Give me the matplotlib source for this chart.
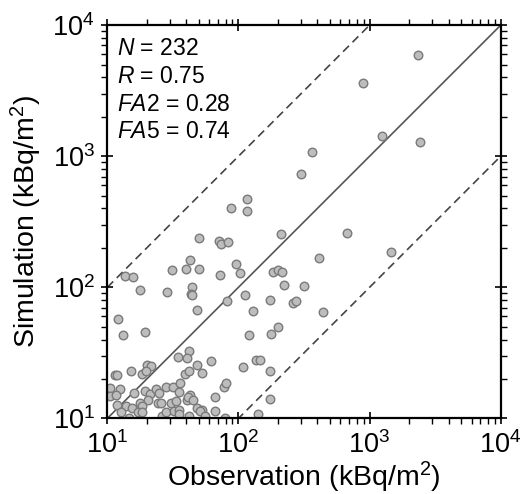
import numpy as np
import matplotlib
matplotlib.use("Agg")
import matplotlib.pyplot as plt

plt.rcParams['font.family'] = ['Liberation Sans', 'DejaVu Sans']
plt.rcParams['mathtext.fontset'] = 'custom'
plt.rcParams['mathtext.rm'] = 'Liberation Sans'
plt.rcParams['mathtext.it'] = 'Liberation Sans:italic'
plt.rcParams['mathtext.bf'] = 'Liberation Sans:bold'

# Observation / simulation deposition (kBq/m2)
obs = [2355, 891, 1239, 2427, 367, 298, 116, 88.1, 117, 50.2,
       71.1, 73.6, 82.8, 211, 677, 1466, 408, 42.4, 95.0, 31.3,
       39.6, 50.0, 72.8, 103, 182, 201, 215, 13.6, 15.6, 223,
       318, 17.9, 28.6, 44.3, 43.4, 44.3, 112, 175, 261, 277,
       81.1, 48.6, 129, 438, 12.0, 199, 13.2, 19.3, 121, 178,
       42.0, 34.3, 40.5, 61.6, 137, 146, 19.9, 21.7, 48.6, 108,
       11.5, 11.9, 15.1, 18.5, 19.7, 39.3, 42.0, 53.1, 175, 10.4,
       12.4, 16.0, 19.5, 21.1, 23.5, 24.8, 28.0, 31.5, 35.9, 35.5,
       42.4, 77.6, 80.7, 10.4, 11.6, 20.3, 30.7, 33.3, 40.5, 41.3,
       44.8, 65.9, 175, 11.9, 13.8, 15.3, 17.8, 18.4, 24.4, 25.8,
       47.9, 52.7, 66.3, 12.8, 17.1, 18.5, 26.1, 27.8, 32.4, 35.1,
       35.5, 41.7, 50.9, 55.9, 78.3, 142, 14.7]
sim = [5902, 3606, 1436, 1280, 1084, 728, 475, 405, 380, 240,
       226, 214, 221, 256, 261, 186, 167, 161, 151, 136,
       138, 137, 124, 128, 130, 135, 130, 122, 119, 105,
       102, 94.9, 91.8, 101, 88.5, 87.8, 87.1, 80.0, 76.2, 79.3,
       78.3, 67.7, 65.6, 64.9, 57.3, 49.6, 43.3, 45.6, 43.3, 43.8,
       32.4, 29.6, 29.1, 27.4, 28.0, 27.8, 25.6, 25.3, 25.6, 24.8,
       21.5, 21.5, 23.1, 21.8, 23.1, 22.0, 22.9, 22.2, 23.1, 17.1,
       16.7, 15.6, 16.3, 15.4, 16.8, 15.5, 17.4, 17.4, 18.5, 16.0,
       15.2, 17.5, 18.5, 14.7, 15.1, 13.8, 13.2, 13.6, 13.7, 14.6,
       13.9, 14.6, 14.0, 12.6, 12.5, 12.0, 13.0, 12.4, 13.2, 13.1,
       12.0, 11.6, 11.3, 11.1, 11.2, 11.1, 10.4, 11.1, 11.4, 11.5,
       10.8, 10.5, 11.3, 10.4, 10.0, 10.8, 10.1]

stats_names = ['N', 'R', 'FA2', 'FA5']
stats_values = ['232', '0.75', '0.28', '0.74']

lims = [10, 1e4]

fig = plt.figure(figsize=(5.21, 4.94), dpi=100)
ax = fig.add_axes([0.206, 0.153, 0.755, 0.796])

ref = np.array(lims)
ax.plot(ref, ref, color='#555555', lw=1.2, zorder=1)
ax.plot(ref, ref * 10, color='#444444', lw=1.2, ls=(0, (5, 3)), zorder=1)
ax.plot(ref, ref / 10, color='#444444', lw=1.2, ls=(0, (5, 3)), zorder=1)

ax.scatter(obs, sim, s=38, facecolor='#bdbdbd', edgecolor='#7a7a7a',
           linewidths=1.0, zorder=2)

ax.set_xscale('log')
ax.set_yscale('log')
ax.set_xlim(lims)
ax.set_ylim(lims)

for s in ax.spines.values():
    s.set_linewidth(1.6)

ax.tick_params(which='major', direction='inout', length=8, width=1.2,
               labelsize=19.5, top=True, right=True, pad=5)
ax.tick_params(which='minor', direction='out', length=4, width=1.0,
               top=True, right=True)

ax.set_xlabel('Observation (kBq/m$^{2}$)', fontsize=20.5, labelpad=1)
ax.set_ylabel('Simulation (kBq/m$^{2}$)', fontsize=20.5, labelpad=6)

for i, (name, val) in enumerate(zip(stats_names, stats_values)):
    head = name.rstrip('0123456789')
    tail = name[len(head):]
    ax.text(0.025, 0.925 - i * 0.071, r'$\mathit{%s}$%s = %s' % (head, tail, val),
            transform=ax.transAxes, fontsize=16.5, va='baseline')

fig.savefig('out.png', dpi=100)
